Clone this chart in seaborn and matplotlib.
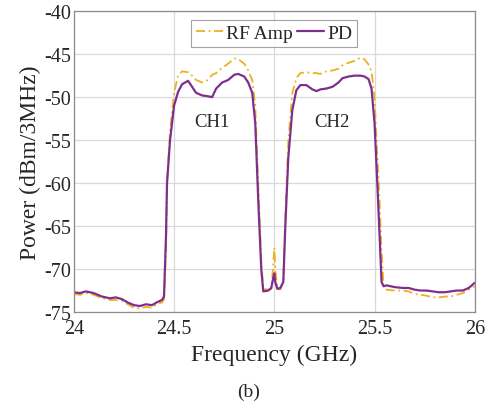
import numpy as np
import pandas as pd
import matplotlib
matplotlib.use("Agg")
import matplotlib.pyplot as plt
import seaborn as sns

# frequency points (GHz)
freq = [24.00, 24.03, 24.06, 24.10, 24.14, 24.18, 24.21, 24.24, 24.27, 24.30,
        24.33, 24.36, 24.39, 24.42, 24.44, 24.45, 24.46, 24.465, 24.48, 24.50,
        24.52, 24.54, 24.57, 24.59, 24.61, 24.64, 24.67, 24.69, 24.71, 24.74,
        24.77, 24.80, 24.82, 24.85, 24.87, 24.89, 24.905, 24.92, 24.935, 24.945,
        24.97, 24.985, 24.995, 25.00, 25.005, 25.015, 25.03, 25.045, 25.055, 25.07,
        25.09, 25.11, 25.13, 25.16, 25.19, 25.21, 25.23, 25.26, 25.29, 25.32,
        25.34, 25.37, 25.40, 25.43, 25.45, 25.47, 25.485, 25.50, 25.51, 25.525,
        25.535, 25.545, 25.56, 25.60, 25.64, 25.67, 25.70, 25.73, 25.76, 25.79,
        25.82, 25.85, 25.88, 25.91, 25.94, 25.97, 26.00]

pd_power = [-72.7, -72.8, -72.6, -72.8, -73.2, -73.4, -73.3, -73.5, -73.9, -74.2,
            -74.3, -74.1, -74.2, -73.8, -73.6, -73.2, -66.0, -60.0, -55.0, -51.0,
            -49.4, -48.5, -48.1, -48.8, -49.5, -49.8, -49.9, -50.0, -49.0, -48.3,
            -48.0, -47.4, -47.3, -47.6, -48.3, -49.5, -53.0, -62.0, -70.0, -72.6,
            -72.5, -72.2, -71.0, -70.5, -71.5, -72.3, -72.2, -71.5, -65.0, -57.0,
            -51.5, -49.2, -48.6, -48.6, -49.1, -49.3, -49.1, -49.0, -48.8, -48.3,
            -47.8, -47.6, -47.5, -47.5, -47.6, -47.9, -49.0, -53.0, -58.0, -66.0,
            -71.5, -72.0, -71.9, -72.1, -72.2, -72.2, -72.4, -72.5, -72.5, -72.6,
            -72.7, -72.7, -72.6, -72.5, -72.5, -72.2, -71.6]

rf_power = [-72.9, -73.0, -72.8, -73.0, -73.4, -73.6, -73.6, -73.7, -74.1, -74.5,
            -74.6, -74.4, -74.5, -74.0, -73.9, -73.5, -68.0, -60.0, -54.0, -49.5,
            -47.5, -47.0, -47.1, -47.5, -48.0, -48.3, -48.0, -47.4, -47.2, -46.6,
            -46.1, -45.5, -45.6, -46.1, -46.9, -48.0, -51.0, -60.0, -69.0, -72.3,
            -72.4, -72.3, -69.5, -67.5, -70.0, -72.3, -72.4, -71.5, -64.0, -55.0,
            -49.5, -47.8, -47.2, -47.1, -47.2, -47.2, -47.3, -47.0, -46.9, -46.7,
            -46.3, -46.0, -45.8, -45.4, -45.6, -46.2, -47.0, -50.0, -55.0, -62.0,
            -68.0, -72.0, -72.4, -72.5, -72.5, -72.6, -72.9, -73.0, -73.1, -73.3,
            -73.3, -73.2, -73.2, -73.0, -72.8, -72.4, -72.0]

x_ticks = [24, 24.5, 25, 25.5, 26]
x_tick_labels = ["24", "24.5", "25", "25.5", "26"]
y_ticks = [-75, -70, -65, -60, -55, -50, -45, -40]

df = pd.DataFrame({"Frequency": freq, "RF Amp": rf_power, "PD": pd_power})

sns.set_theme(style="whitegrid")
plt.rcParams["font.family"] = ["Liberation Serif", "DejaVu Serif"]
plt.rcParams["axes.unicode_minus"] = False

fig = plt.figure(figsize=(4.92, 4.06), dpi=100)
ax = fig.add_axes([0.150, 0.229, 0.815, 0.741])

sns.lineplot(data=df, x="Frequency", y="RF Amp", ax=ax, color="#EDB120",
             linewidth=1.3, linestyle=(0, (5, 2, 1, 2)), label="RF Amp")
sns.lineplot(data=df, x="Frequency", y="PD", ax=ax, color="#7E2F8E",
             linewidth=1.6, label="PD")

ax.set_xlim(24, 26)
ax.set_ylim(-75, -40)
ax.set_xticks(x_ticks)
ax.set_xticklabels(x_tick_labels)
ax.set_yticks(y_ticks)
ax.tick_params(axis="both", labelsize=14.5, colors="#262626", direction="in",
               length=3)
ax.tick_params(axis="y", pad=2)
ax.tick_params(axis="x", pad=5)
ax.grid(True, color="#d9d9d9", linewidth=0.9)
for s in ax.spines.values():
    s.set_color("#8c8c8c")
    s.set_linewidth(0.9)

ax.set_xlabel("Frequency (GHz)", fontsize=17, color="#262626", labelpad=4)
ax.set_ylabel("Power (dBm/3MHz)", fontsize=17, color="#262626", labelpad=2)

ax.text(24.69, -52.8, "CH1", fontsize=13.5, ha="center", va="center")
ax.text(25.29, -52.8, "CH2", fontsize=13.5, ha="center", va="center")

leg = ax.legend(loc="upper center", bbox_to_anchor=(0.5, 0.985), ncol=2,
                fontsize=14, frameon=True, fancybox=False, handlelength=1.4,
                handletextpad=0.15, columnspacing=0.2, borderpad=0.25,
                borderaxespad=0.2)
leg.get_frame().set_edgecolor("#8c8c8c")
leg.get_frame().set_linewidth(0.8)

fig.text(0.505, 0.034, "(b)", fontsize=14, ha="center", va="center")

fig.savefig("out.png", dpi=100, facecolor="white")
